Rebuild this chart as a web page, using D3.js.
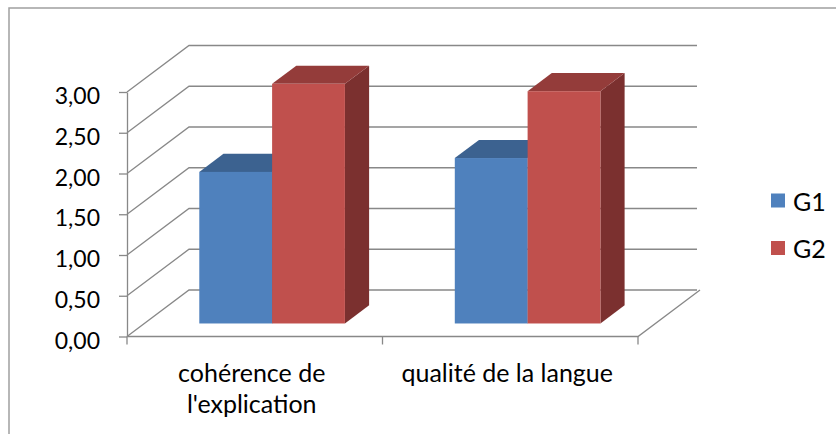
<!DOCTYPE html>
<html>
<head>
<meta charset="utf-8">
<script src="https://cdn.jsdelivr.net/npm/d3@7"></script>
<style>
  body { margin: 0; background: #fff; }
  text { font-family: Lato, "Open Sans", sans-serif; fill: #000; }
</style>
</head>
<body>
<script>
// data
var categories = ["cohérence de l'explication", "qualité de la langue"];
var categoryLines = [["cohérence de", "l'explication"], ["qualité de la langue"]];
var series = ["G1", "G2"];
var g1Values = [1.86, 2.03];
var g2Values = [2.94, 2.85];
var yTicks = [0, 0.5, 1, 1.5, 2, 2.5, 3];

var colors = {
  G1: { front: "#4f81bd", top: "#3c6290", side: "#385d8a" },
  G2: { front: "#c0504d", top: "#943c3a", side: "#7b302f" }
};

var width = 836, height = 434;

var svg = d3.select("body").append("svg")
    .attr("width", width)
    .attr("height", height);

// chart border
svg.append("rect")
    .attr("x", 9).attr("y", 8)
    .attr("width", 840).attr("height", 440)
    .attr("fill", "none")
    .attr("stroke", "#a0a0a0")
    .attr("stroke-width", 1.5);

// scales (front plane)
var y = d3.scaleLinear().domain([0, 3]).range([336.5, 92]);
var x0 = d3.scaleBand().domain(categories).range([127, 638])
    .paddingInner(0.43).paddingOuter(0.215);
var x1 = d3.scaleBand().domain(series).range([0, x0.bandwidth()]);

// depth projection
var depthX = 62, depthY = -46.5;
function P(px, v, d) {
  return [px + depthX * d, y(v) + depthY * d];
}
function poly(pts) {
  return pts.map(function(p) { return p.join(","); }).join(" ");
}

var gridColor = "#888888";

// back wall gridlines + diagonals on left side
yTicks.forEach(function(t) {
  var a = P(127, t, 0), b = P(127, t, 1), c = P(697 - depthX, t, 1);
  svg.append("polyline")
      .attr("points", poly([a, b, c]))
      .attr("fill", "none")
      .attr("stroke", gridColor)
      .attr("stroke-width", 1.3);
});

// floor front and right edges
svg.append("polyline")
    .attr("points", poly([P(127, 0, 0), P(638, 0, 0), P(638, 0, 1)]))
    .attr("fill", "none")
    .attr("stroke", gridColor)
    .attr("stroke-width", 1.3);

// x ticks
[127, 127 + x0.step(), 638].forEach(function(tx) {
  svg.append("line")
      .attr("x1", tx).attr("x2", tx)
      .attr("y1", y(0)).attr("y2", y(0) + 8)
      .attr("stroke", gridColor).attr("stroke-width", 1.3);
});

// bars
var dFront = 0.28, dBack = 0.67;
var bars = [];
categories.forEach(function(c, i) {
  bars.push({ cat: c, s: "G1", v: g1Values[i] });
  bars.push({ cat: c, s: "G2", v: g2Values[i] });
});

var barG = svg.append("g");
bars.forEach(function(b) {
  var xl = x0(b.cat) + x1(b.s), xr = xl + x1.bandwidth();
  var col = colors[b.s];
  // side
  barG.append("polygon")
      .attr("points", poly([P(xr, 0, dFront), P(xr, 0, dBack), P(xr, b.v, dBack), P(xr, b.v, dFront)]))
      .attr("fill", col.side);
  // top
  barG.append("polygon")
      .attr("points", poly([P(xl, b.v, dFront), P(xr, b.v, dFront), P(xr, b.v, dBack), P(xl, b.v, dBack)]))
      .attr("fill", col.top);
  // front
  var f0 = P(xl, b.v, dFront), f1 = P(xr, 0, dFront);
  barG.append("rect")
      .attr("x", f0[0]).attr("y", f0[1])
      .attr("width", f1[0] - f0[0]).attr("height", f1[1] - f0[1])
      .attr("fill", col.front);
});

// y axis
var yAxis = svg.append("g")
    .attr("transform", "translate(127,0)")
    .call(d3.axisLeft(y).tickValues(yTicks).tickSize(8).tickSizeOuter(0)
      .tickFormat(function(d) { return d3.format(".2f")(d).replace(".", ","); }));
yAxis.select(".domain").attr("stroke", gridColor).attr("stroke-width", 1.3);
yAxis.selectAll(".tick line").attr("stroke", gridColor).attr("stroke-width", 1.3);
yAxis.selectAll(".tick text")
    .attr("x", -27)
    .attr("dy", "0.5em")
    .style("font-size", "23px")
    .style("font-family", "Lato, 'Open Sans', sans-serif")
    .attr("fill", "#000");

// category labels
categories.forEach(function(c, i) {
  var cx = x0(c) + x0.bandwidth() / 2 - 3;
  var t = svg.append("text")
      .attr("x", cx)
      .attr("y", 382)
      .attr("text-anchor", "middle")
      .style("font-size", "25px");
  categoryLines[i].forEach(function(line, j) {
    t.append("tspan")
        .attr("x", cx)
        .attr("dy", j === 0 ? 0 : 31)
        .text(line);
  });
});

// legend
var legend = svg.append("g");
series.forEach(function(s, i) {
  legend.append("rect")
      .attr("x", 771).attr("y", 193.5 + i * 47.5)
      .attr("width", 14).attr("height", 14)
      .attr("fill", colors[s].front);
  legend.append("text")
      .attr("x", 793).attr("y", 211 + i * 47)
      .style("font-size", "25px")
      .text(s);
});
</script>
</body>
</html>
